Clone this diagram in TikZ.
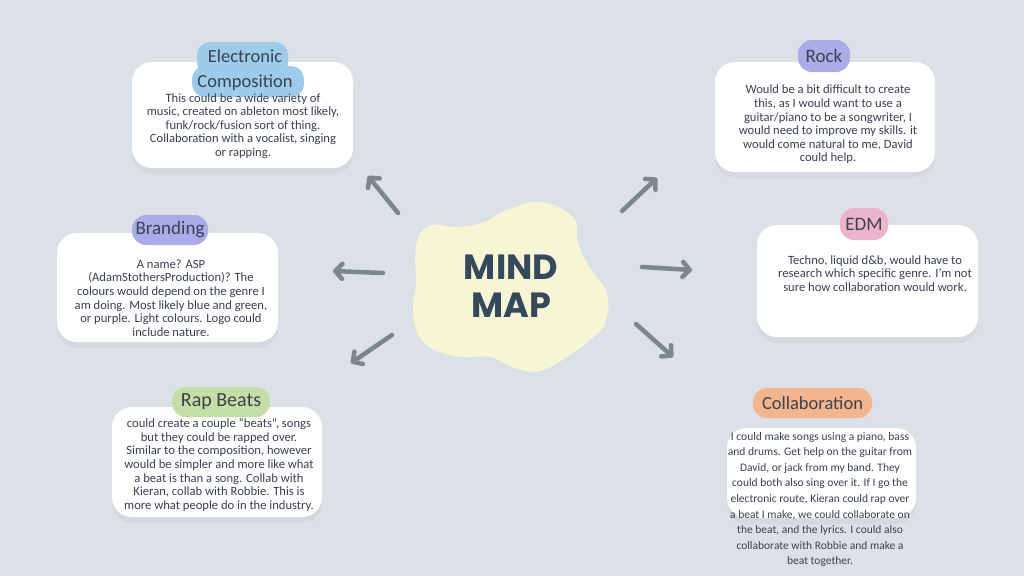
\documentclass[tikz,border=0pt]{standalone}
\usepackage{fontspec}
\setmainfont{Carlito}
\newfontfamily\titlefont{Poppins}
\usetikzlibrary{arrows.meta,shadows}
\definecolor{bg}{HTML}{DCE0E7}
\definecolor{blobc}{HTML}{F6F5D4}
\definecolor{arrowc}{HTML}{7C8690}
\definecolor{txt}{HTML}{3A4150}
\definecolor{titlec}{HTML}{34495C}
\definecolor{bluec}{HTML}{9DCBEA}
\definecolor{purplec}{HTML}{AAACE7}
\definecolor{greenc}{HTML}{C3DFA5}
\definecolor{pinkc}{HTML}{EBB4CB}
\definecolor{orangec}{HTML}{F3B58C}
\tikzset{
  card/.style={fill=white, draw=none, rounded corners=20pt, inner sep=0pt,
    drop shadow={opacity=0.07, shadow xshift=0pt, shadow yshift=-6pt}},
  pill/.style={draw=none, rounded corners=14pt, inner sep=0pt, text=txt,
    font=\fontsize{19}{22}\selectfont},
  body/.style={text=txt, align=center, inner sep=0pt,
    font=\fontsize{12.6}{13.6}\selectfont},
  arrowline/.style={draw=arrowc, line width=4.5pt, line cap=round, line join=round,
    -{Straight Barb[round, length=7pt, width=15pt]}},
}
\begin{document}
\begin{tikzpicture}[x=1pt,y=-1pt]
\fill[bg] (0,0) rectangle (1024,576);
\useasboundingbox (0,0) rectangle (1024,576);

% central blob
\fill[blobc] plot[smooth cycle, tension=0.7] coordinates {
  (540,202) (573,217) (578,243) (590,268) (607,293) (605,323)
  (590,340) (567,357) (540,371) (515,368) (490,357) (462,357)
  (435,350) (419,336) (413,310) (416,283) (415,257) (419,236)
  (432,225) (458,227) (484,222) (507,210)};
\node[font=\titlefont\bfseries\fontsize{35}{38}\selectfont, text=titlec, align=center] (center) at (511,286) {MIND\\MAP};

% arrows
\coordinate (a1s) at (398,213); \coordinate (a1e) at (368,176);
\coordinate (a2s) at (383,273); \coordinate (a2e) at (333,271);
\coordinate (a3s) at (392,335); \coordinate (a3e) at (351,363);
\coordinate (a4s) at (622,211); \coordinate (a4e) at (657,178);
\coordinate (a5s) at (642,267); \coordinate (a5e) at (692,270);
\coordinate (a6s) at (636,324); \coordinate (a6e) at (673,357);
\draw[arrowline] (a1s) -- (a1e);
\draw[arrowline] (a2s) -- (a2e);
\draw[arrowline] (a3s) -- (a3e);
\draw[arrowline] (a4s) -- (a4e);
\draw[arrowline] (a5s) -- (a5e);
\draw[arrowline] (a6s) -- (a6e);

% Electronic Composition
\node[card, minimum width=221pt, minimum height=106pt] (ecard) at (242.5,115) {};
\fill[bluec, rounded corners=13pt] (197,42) rectangle (288,76);
\fill[bluec, rounded corners=13pt] (192,66) rectangle (304,97);
\node[text=txt, align=center, inner sep=0pt, font=\fontsize{18.5}{25}\selectfont] (elabel) at (245,70) {Electronic\\Composition};
\node[body] (ebody) at (243,126) {This could be a wide variety of\\music, created on ableton most likely,\\funk/rock/fusion sort of thing.\\Collaboration with a vocalist, singing\\or rapping.};

% Rock
\node[card, minimum width=220pt, minimum height=110pt] (rcard) at (825,117) {};
\node[pill, fill=purplec, minimum width=52pt, minimum height=32pt] (rlabel) at (824,56) {Rock};
\node[body] (rbody) at (828,124.5) {Would be a bit difficult to create\\this, as I would want to use a\\guitar/piano to be a songwriter, I\\would need to improve my skills. it\\would come natural to me, David\\could help.};

% Branding
\node[card, minimum width=221pt, minimum height=109pt] (bcard) at (167.5,287.5) {};
\node[pill, fill=purplec, minimum width=76pt, minimum height=30pt] (blabel) at (170,230) {Branding};
\node[body] (bbody) at (171,298) {A name? ASP\\(AdamStothersProduction)? The\\colours would depend on the genre I\\am doing. Most likely blue and green,\\or purple. Light colours. Logo could\\include nature.};

% Rap Beats
\node[card, minimum width=210pt, minimum height=110pt] (pcard) at (217,462) {};
\node[pill, fill=greenc, minimum width=98pt, minimum height=30pt, font=\fontsize{20}{22}\selectfont] (plabel) at (221,402) {Rap Beats};
\node[body] (pbody) at (219,465) {could create a couple “beats”, songs\\but they could be rapped over.\\Similar to the composition, however\\would be simpler and more like what\\a beat is than a song. Collab with\\Kieran, collab with Robbie. This is\\more what people do in the industry.};

% EDM
\node[card, minimum width=221pt, minimum height=112pt] (dcard) at (867.5,281) {};
\node[pill, fill=pinkc, minimum width=48pt, minimum height=32pt] (dlabel) at (864,224) {EDM};
\node[body] (dbody) at (875,273.5) {Techno, liquid d\&b, would have to\\research which specific genre. I’m not\\sure how collaboration would work.};

% Collaboration
\node[card, minimum width=189pt, minimum height=90pt] (ccard) at (821.5,473) {};
\node[pill, fill=orangec, minimum width=119pt, minimum height=30pt, font=\fontsize{18.5}{22}\selectfont] (clabel) at (812.5,403) {Collaboration};
\node[body, font=\fontsize{11.5}{15.6}\selectfont] (cbody) at (820,499.5) {I could make songs using a piano, bass\\and drums. Get help on the guitar from\\David, or jack from my band. They\\could both also sing over it. If I go the\\electronic route, Kieran could rap over\\a beat I make, we could collaborate on\\the beat, and the lyrics. I could also\\collaborate with Robbie and make a\\beat together.};
\end{tikzpicture}
\end{document}
